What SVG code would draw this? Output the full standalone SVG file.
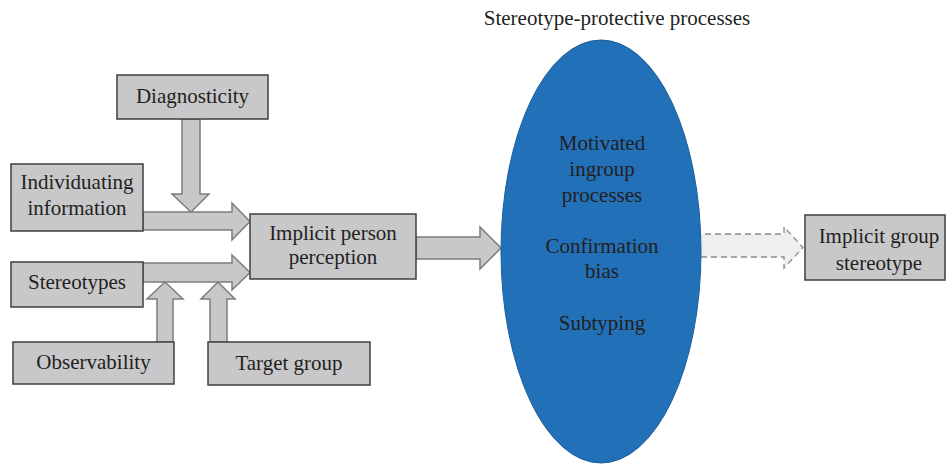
<svg xmlns="http://www.w3.org/2000/svg" width="946" height="464" viewBox="0 0 946 464">
<style>
text{font-family:"Liberation Serif","Times New Roman",serif;font-size:21px;fill:#231f20;text-anchor:middle}
.box{fill:#c8c8ca;stroke:#3f3f3f;stroke-width:1.5}
.arr{fill:#c8c8ca;stroke:#7d7b7c;stroke-width:1.5;stroke-linejoin:miter}
.dash{fill:#efefef;stroke:#8a8a8a;stroke-width:1.3;stroke-dasharray:6 4}
</style>
<rect width="946" height="464" fill="#ffffff"/>
<g id="connectors">
<polygon class="arr" points="182,119 200,119 200,194 209,194 191,212 172,194 182,194"/>
<polygon class="arr" points="143,212 232,212 232,203 250,221.5 232,240 232,230 143,230"/>
<polygon class="arr" points="143,263 232,263 232,255 250,272.5 232,290 232,282 143,282"/>
<polygon class="arr" points="157,342 157,299 147,299 165,282 183,299 173,299 173,342"/>
<polygon class="arr" points="210,342 210,299 201,299 218,282 235,299 227,299 227,342"/>
<polygon class="arr" points="416,237 480,237 480,227 501,248 480,269 480,259 416,259"/>
<polygon class="dash" points="695,234 784,234 784,227 803,247.5 784,268 784,257 695,257"/>
</g>
<g id="title"><text x="617" y="25">Stereotype-protective processes</text></g>
<g id="diagnosticity"><rect class="box" x="117" y="75" width="151" height="44"/><text x="192.5" y="103">Diagnosticity</text></g>
<g id="individuating"><rect class="box" x="11" y="164" width="132" height="67"/><text x="77" y="189">Individuating</text><text x="77" y="215">information</text></g>
<g id="stereotypes"><rect class="box" x="11" y="262" width="132" height="45"/><text x="77" y="289">Stereotypes</text></g>
<g id="observability"><rect class="box" x="13" y="342" width="161" height="42"/><text x="93.5" y="369">Observability</text></g>
<g id="target-group"><rect class="box" x="208" y="342" width="162" height="43"/><text x="289" y="370">Target group</text></g>
<g id="person-perception"><rect class="box" x="250" y="214" width="166" height="65"/><text x="333" y="240">Implicit person</text><text x="333" y="264">perception</text></g>
<g id="protective-processes"><ellipse cx="601" cy="251.5" rx="100" ry="211.5" fill="#2270b8" stroke="#1d5e9a" stroke-width="1"/>
<text x="602" y="150">Motivated</text><text x="602" y="176">ingroup</text><text x="602" y="202">processes</text>
<text x="602" y="253">Confirmation</text><text x="602" y="278">bias</text>
<text x="602" y="330">Subtyping</text></g>
<g id="group-stereotype"><rect class="box" x="805" y="215" width="140" height="65"/><text x="879" y="243">Implicit group</text><text x="879" y="270">stereotype</text></g>
</svg>
